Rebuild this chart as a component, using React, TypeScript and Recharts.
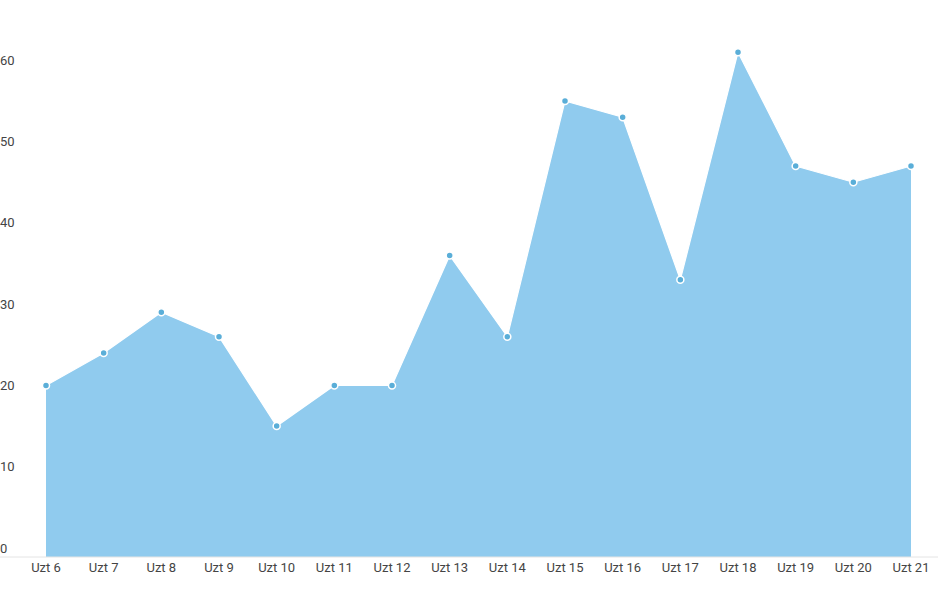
import { AreaChart, Area, XAxis, YAxis } from "recharts";

const days = [
  "Uzt 6", "Uzt 7", "Uzt 8", "Uzt 9", "Uzt 10", "Uzt 11", "Uzt 12", "Uzt 13",
  "Uzt 14", "Uzt 15", "Uzt 16", "Uzt 17", "Uzt 18", "Uzt 19", "Uzt 20", "Uzt 21",
];
const counts = [20, 24, 29, 26, 15, 20, 20, 36, 26, 55, 53, 33, 61, 47, 45, 47];
const yTicks = [0, 10, 20, 30, 40, 50, 60];

const data = days.map((name, i) => ({ name, value: counts[i] }));

const tickStyle = { fill: "#444", fontSize: 13, fontFamily: "Roboto, sans-serif" };

export default function App() {
  return (
    <div style={{ position: "absolute", top: 0, left: 0, background: "#fff" }}>
      <AreaChart
        width={938}
        height={591}
        data={data}
        margin={{ top: 5, right: 0, left: 0, bottom: 4 }}
      >
        <XAxis
          dataKey="name"
          height={30}
          padding={{ left: 46, right: 27 }}
          axisLine={{ stroke: "#e4e4e4" }}
          tickLine={false}
          tickSize={0}
          tickMargin={6}
          interval={0}
          tick={tickStyle}
        />
        <YAxis
          width={1}
          mirror
          domain={[-1.1, 66.8]}
          ticks={yTicks}
          interval={0}
          axisLine={false}
          tickLine={false}
          tickSize={0}
          tickMargin={0}
          tick={{ ...tickStyle, textAnchor: "start" }}
        />
        <Area
          type="linear"
          dataKey="value"
          baseValue="dataMin"
          fill="#90cbee"
          fillOpacity={1}
          stroke="#ffffff"
          strokeWidth={1.2}
          dot={{ r: 3.5, fill: "#5aaed8", stroke: "#ffffff", strokeWidth: 1.5, fillOpacity: 1 }}
          activeDot={false}
          isAnimationActive={false}
        />
      </AreaChart>
    </div>
  );
}
